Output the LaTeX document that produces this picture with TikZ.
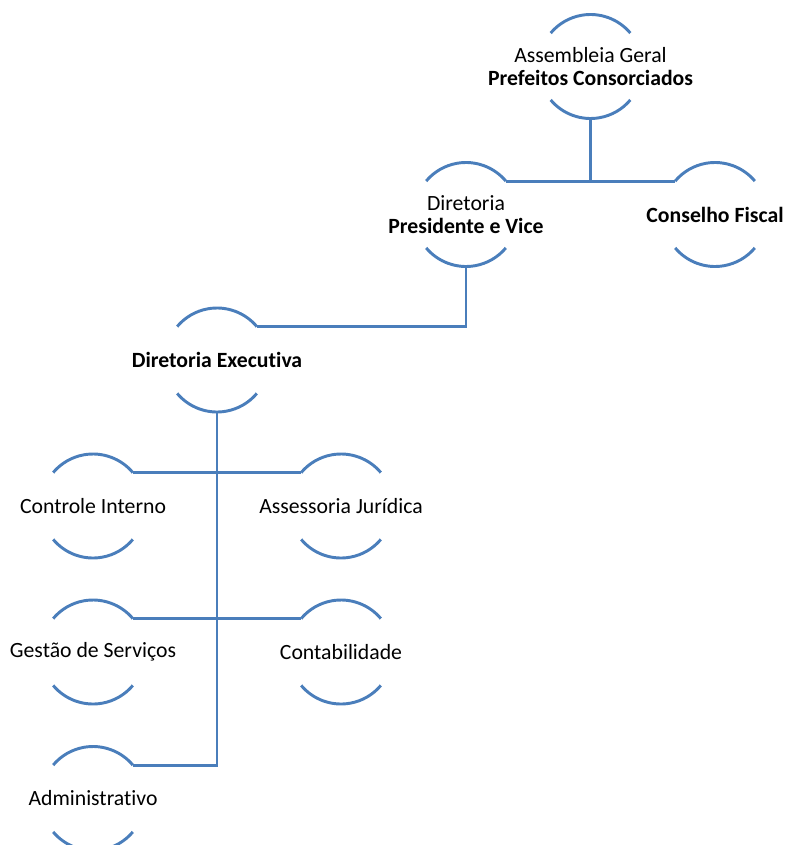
\documentclass[tikz,border=0pt]{standalone}
\usepackage{fontspec}
\setmainfont{Carlito}[Ligatures={NoCommon,NoContextual,NoRequired}, RawFeature={-liga;-clig;-calt;-rlig}]
\usetikzlibrary{positioning}

\definecolor{orgblue}{RGB}{74,126,187}

\begin{document}
\begin{tikzpicture}[
    x=0.75pt, y=-0.75pt,
    org/.style={
        circle,
        minimum size=78pt,
        inner sep=0pt,
        outer sep=0pt,
        },
    orgtext/.style={
        align=center,
        inner sep=0pt,
        font=\fontsize{16.3}{17.5}\selectfont
        },
    arcline/.style={
        draw=orgblue,
        line width=2.2pt,
        },
    link/.style={
        draw=orgblue,
        line width=2.2pt,
        },
    ]

    \useasboundingbox (0,0) rectangle (786,845);

    \node [org, label={[orgtext]center:Assembleia Geral\\\textbf{Prefeitos Consorciados}}] (asm) at (590.5,66.5) {};
    \node [org, label={[orgtext]center:Diretoria\\\textbf{Presidente e Vice}}] (dir) at (466,214.5) {};
    \node [org, label={[orgtext]center:\textbf{Conselho Fiscal}}] (fis) at (715,214.5) {};
    \node [org, label={[orgtext]center:\textbf{Diretoria Executiva}}] (exe) at (217,360) {};

    \node [org, label={[orgtext]center:Controle Interno}] (ci) at (93,506) {};
    \node [org, label={[orgtext]center:Assessoria Jurídica}] (aj) at (341,506) {};
    \node [org, label={[orgtext]center:Gestão de Serviços}] (gs) at (93,652) {};
    \node [org, label={[orgtext]center:Contabilidade}] (ct) at (341,652) {};
    \node [org, label={[orgtext]center:Administrativo}] (adm) at (93,798.5) {};

    % half circles above and below each text
    \foreach \n in {asm,dir,fis,exe,ci,aj,gs,ct,adm}{
        \draw [arcline] (\n.40) arc[start angle=40, end angle=140, radius=39pt];
        \draw [arcline] (\n.-140) arc[start angle=-140, end angle=-40, radius=39pt];
    }

    \draw [link] (dir.40) -- (fis.140);
    \draw [link] (asm.south) -- (asm.south |- dir.40);
    \draw [link] (dir.south) |- (exe.40);

    \draw [link] (exe.south) |- (adm.40);
    \draw [link] (ci.40) -- (aj.140);
    \draw [link] (gs.40) -- (ct.140);

\end{tikzpicture}
\end{document}
